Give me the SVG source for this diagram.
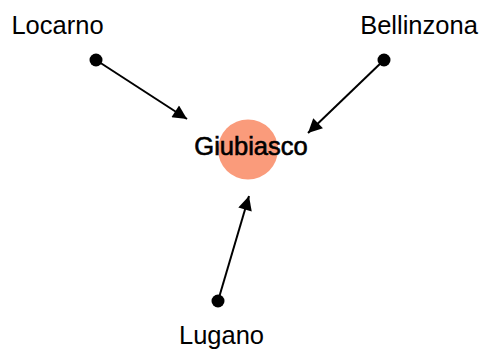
<svg xmlns="http://www.w3.org/2000/svg" width="481" height="349" viewBox="0 0 481 349">
<defs>
<style>
text{font-family:"Liberation Sans",Arial,sans-serif;font-size:25.5px;fill:#000;text-anchor:middle}
.center{stroke:#000;stroke-width:0.6}
.edge{stroke:#000;stroke-width:2;fill:none;marker-end:url(#arr)}
.dot{fill:#000}
</style>
<marker id="arr" viewBox="0 0 10 10" refX="10" refY="5" markerWidth="8" markerHeight="7" markerUnits="strokeWidth" orient="auto">
<path d="M0,0 L10,5 L0,10 z" fill="#000"/>
</marker>
</defs>
<rect width="481" height="349" fill="#fff"/>
<g id="node-giubiasco">
<circle cx="248" cy="149.5" r="30" fill="#FA9B7B"/>
<text class="center" x="251" y="155">Giubiasco</text>
</g>
<g id="connectors">
<line class="edge" x1="96" y1="60" x2="187" y2="119"/>
<line class="edge" x1="384" y1="60" x2="308" y2="133"/>
<line class="edge" x1="218" y1="301" x2="249" y2="196"/>
</g>
<g id="node-locarno">
<circle class="dot" cx="96" cy="60" r="6.5"/>
<text x="57.5" y="34">Locarno</text>
</g>
<g id="node-bellinzona">
<circle class="dot" cx="384" cy="60" r="6.5"/>
<text x="419" y="33.5">Bellinzona</text>
</g>
<g id="node-lugano">
<circle class="dot" cx="218" cy="301" r="6.5"/>
<text x="221.5" y="344">Lugano</text>
</g>
</svg>
